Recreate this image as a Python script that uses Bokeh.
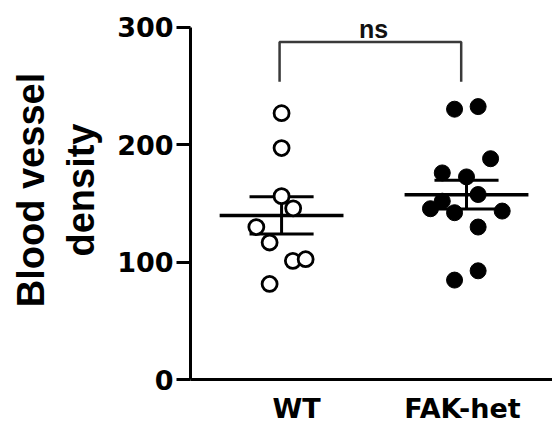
import numpy as np
from bokeh.plotting import figure
from bokeh.models import FixedTicker, Range1d
from bokeh.core.properties import value
from bokeh.embed import file_html
from bokeh.resources import INLINE

# ---- data ----
groups = ["WT", "FAK-het"]
wt_values = [226.9, 197.2, 156.2, 145.8, 129.9, 116.7, 101.1, 102.5, 81.4]
wt_jitter = [0.0, 0.0, 0.0, 0.070, -0.152, -0.072, 0.068, 0.145, -0.072]
fak_values = [230.3, 232.5, 188.1, 176.0, 172.6, 157.6, 151.9, 145.5, 142.1,
              143.5, 129.9, 84.7, 92.6]
fak_jitter = [-0.072, 0.070, 0.145, -0.146, 0.0, 0.070, -0.146, -0.217, -0.072,
              0.215, 0.070, -0.072, 0.070]
y_ticks = [0, 100, 200, 300]
y_label = "Blood vessel\ndensity"
significance = "ns"

# ---- layout constants ----
label_pos = [1, 2]
centers = [0.91, 2.024]
mean_hw = 0.373
cap_hw = 0.193
bracket_lo, bracket_hi = 253.6, 287.5

p = figure(width=552, height=426, output_backend="svg", toolbar_location=None,
           x_range=Range1d(0.3614, 2.542), y_range=Range1d(0, 322.9),
           min_border_left=190, min_border_right=0, min_border_top=0,
           min_border_bottom=45)
p.outline_line_color = None
p.grid.visible = False
p.background_fill_color = "white"
p.border_fill_color = "white"

def stats(v):
    a = np.array(v)
    return a.mean(), a.std(ddof=1) / np.sqrt(len(a))

for i, (vals, jit) in enumerate([(wt_values, wt_jitter), (fak_values, fak_jitter)]):
    c = centers[i]
    m, se = stats(vals)
    p.segment(x0=[c - mean_hw], x1=[c + mean_hw], y0=[m], y1=[m],
              line_color="black", line_width=3.5)
    p.segment(x0=[c], x1=[c], y0=[m - se], y1=[m + se], line_color="black", line_width=3)
    p.segment(x0=[c - cap_hw, c - cap_hw], x1=[c + cap_hw, c + cap_hw],
              y0=[m - se, m + se], y1=[m - se, m + se], line_color="black", line_width=3)
    xs = [c + j for j in jit]
    if i == 0:
        p.scatter(xs, vals, size=15, fill_color="white", line_color="black", line_width=2.8)
    else:
        p.scatter(xs, vals, size=16, fill_color="black", line_color="black", line_width=1)

# significance bracket
bx0 = centers[0] - 0.012
bx1 = centers[1] - 0.032
p.line([bx0, bx0, bx1, bx1], [bracket_lo, bracket_hi, bracket_hi, bracket_lo],
       line_color="#3a3a3a", line_width=2.5)
p.text(x=[(label_pos[0] + label_pos[1]) / 2 - 0.036], y=[299], text=[significance],
       text_font=value("Liberation Sans"), text_font_style="bold",
       text_font_size="25px", text_align="center", text_baseline="alphabetic",
       text_color="#111111")

# y axis
ya = p.yaxis[0]
ya.ticker = FixedTicker(ticks=y_ticks)
ya.bounds = (0, 300)
ya.axis_line_width = 3
ya.axis_line_color = "black"
ya.major_tick_line_width = 3
ya.major_tick_line_color = "black"
ya.major_tick_out = 14
ya.major_tick_in = 0
ya.minor_tick_line_color = None
ya.major_label_text_font = "DejaVu Sans"
ya.major_label_text_font_style = "bold"
ya.major_label_text_font_size = "27px"
ya.major_label_text_color = "black"
ya.major_label_standoff = 3
ya.axis_label = y_label
ya.axis_label_text_font = "Liberation Sans"
ya.axis_label_text_font_style = "bold"
ya.axis_label_text_font_size = "38px"
ya.axis_label_text_color = "black"
ya.axis_label_standoff = 12

# x axis
xa = p.xaxis[0]
xa.ticker = FixedTicker(ticks=label_pos)
xa.major_label_overrides = {label_pos[0]: groups[0], label_pos[1]: groups[1]}
xa.axis_line_width = 3
xa.axis_line_color = "black"
xa.major_tick_line_color = None
xa.major_tick_out = 0
xa.major_tick_in = 0
xa.minor_tick_line_color = None
xa.major_label_text_font = "DejaVu Sans"
xa.major_label_text_font_style = "bold"
xa.major_label_text_font_size = "27px"
xa.major_label_text_color = "black"
xa.major_label_standoff = 13

open("out.html", "w").write(file_html(p, INLINE))
